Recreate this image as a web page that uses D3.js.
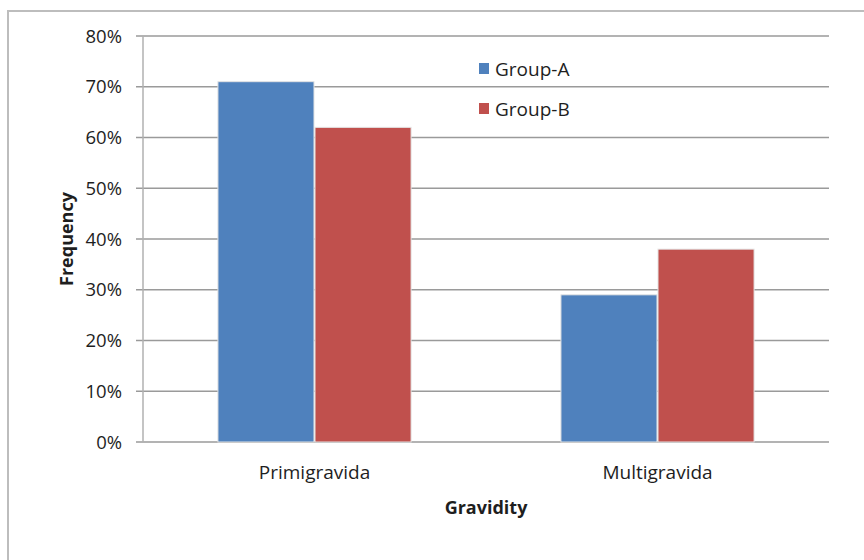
<!DOCTYPE html>
<html><head><meta charset="utf-8">
<script src="https://cdn.jsdelivr.net/npm/d3@7"></script>
<style>body{margin:0;background:#fff}svg{display:block}text{font-family:"Open Sans",sans-serif;fill:#1e1e1e}</style>
</head><body><svg id="c" width="864" height="560"></svg>
<script>
const categories = ["Primigravida", "Multigravida"];
const seriesNames = ["Group-A", "Group-B"];
const groupA = [71, 29];
const groupB = [62, 38];
const yTicks = [0, 10, 20, 30, 40, 50, 60, 70, 80];
const colors = ["#4F81BD", "#C0504D"];

const svg = d3.select("#c");
svg.append("rect").attr("x", 8).attr("y", 11).attr("width", 900).attr("height", 600)
  .attr("fill", "none").attr("stroke", "#bdbdbd").attr("stroke-width", 2);

const L = 143, R = 829, T = 36, B = 442;
const y = d3.scaleLinear().domain([0, 80]).range([B, T]);
const x0 = d3.scaleBand().domain(categories).range([L, R]).paddingInner(0.434).paddingOuter(0.217);
const x1 = d3.scaleBand().domain(seriesNames).range([0, x0.bandwidth()]).padding(0);

// gridlines
svg.append("g").selectAll("line").data(yTicks).join("line")
  .attr("x1", L - 7).attr("x2", R).attr("y1", d => y(d)).attr("y2", d => y(d))
  .attr("stroke", "#9a9a9a").attr("stroke-width", 1.5);
// y axis line
svg.append("line").attr("x1", L).attr("x2", L).attr("y1", T).attr("y2", B)
  .attr("stroke", "#b0b0b0").attr("stroke-width", 1.5);
// tick labels
svg.append("g").selectAll("text").data(yTicks).join("text")
  .attr("x", 122).attr("y", d => y(d)).attr("dy", "0.36em").attr("text-anchor", "end")
  .attr("font-size", 18.5).text(d => d + "%");

const data = categories.map((c, i) => ({c, vals: [groupA[i], groupB[i]]}));
const g = svg.append("g").selectAll("g").data(data).join("g")
  .attr("transform", d => `translate(${x0(d.c)},0)`);
g.selectAll("rect").data(d => d.vals.map((v, j) => ({v, s: seriesNames[j], j}))).join("rect")
  .attr("x", d => x1(d.s) + 0.5).attr("width", x1.bandwidth() - 1)
  .attr("y", d => y(d.v)).attr("height", d => B - y(d.v))
  .attr("fill", d => colors[d.j]).attr("stroke", "#e4e4e4").attr("stroke-width", 1);

// category labels
svg.append("g").selectAll("text").data(categories).join("text")
  .attr("x", d => x0(d) + x0.bandwidth() / 2).attr("y", 479).attr("text-anchor", "middle")
  .attr("font-size", 19).text(d => d);

svg.append("text").attr("x", (L + R) / 2).attr("y", 514).attr("text-anchor", "middle")
  .attr("font-size", 18).attr("font-weight", "bold").text("Gravidity");
svg.append("text").attr("transform", `translate(73,${(T + B) / 2}) rotate(-90)`)
  .attr("text-anchor", "middle").attr("font-size", 18).attr("font-weight", "bold").text("Frequency");

// legend
const leg = svg.append("g").selectAll("g").data(seriesNames).join("g")
  .attr("transform", (d, i) => `translate(479,${69 + i * 40})`);
leg.append("rect").attr("x", 0).attr("y", -6).attr("width", 10).attr("height", 11)
  .attr("fill", (d, i) => colors[i]);
leg.append("text").attr("x", 16).attr("y", 0).attr("dy", "0.36em").attr("font-size", 19).text(d => d);
</script></body></html>
